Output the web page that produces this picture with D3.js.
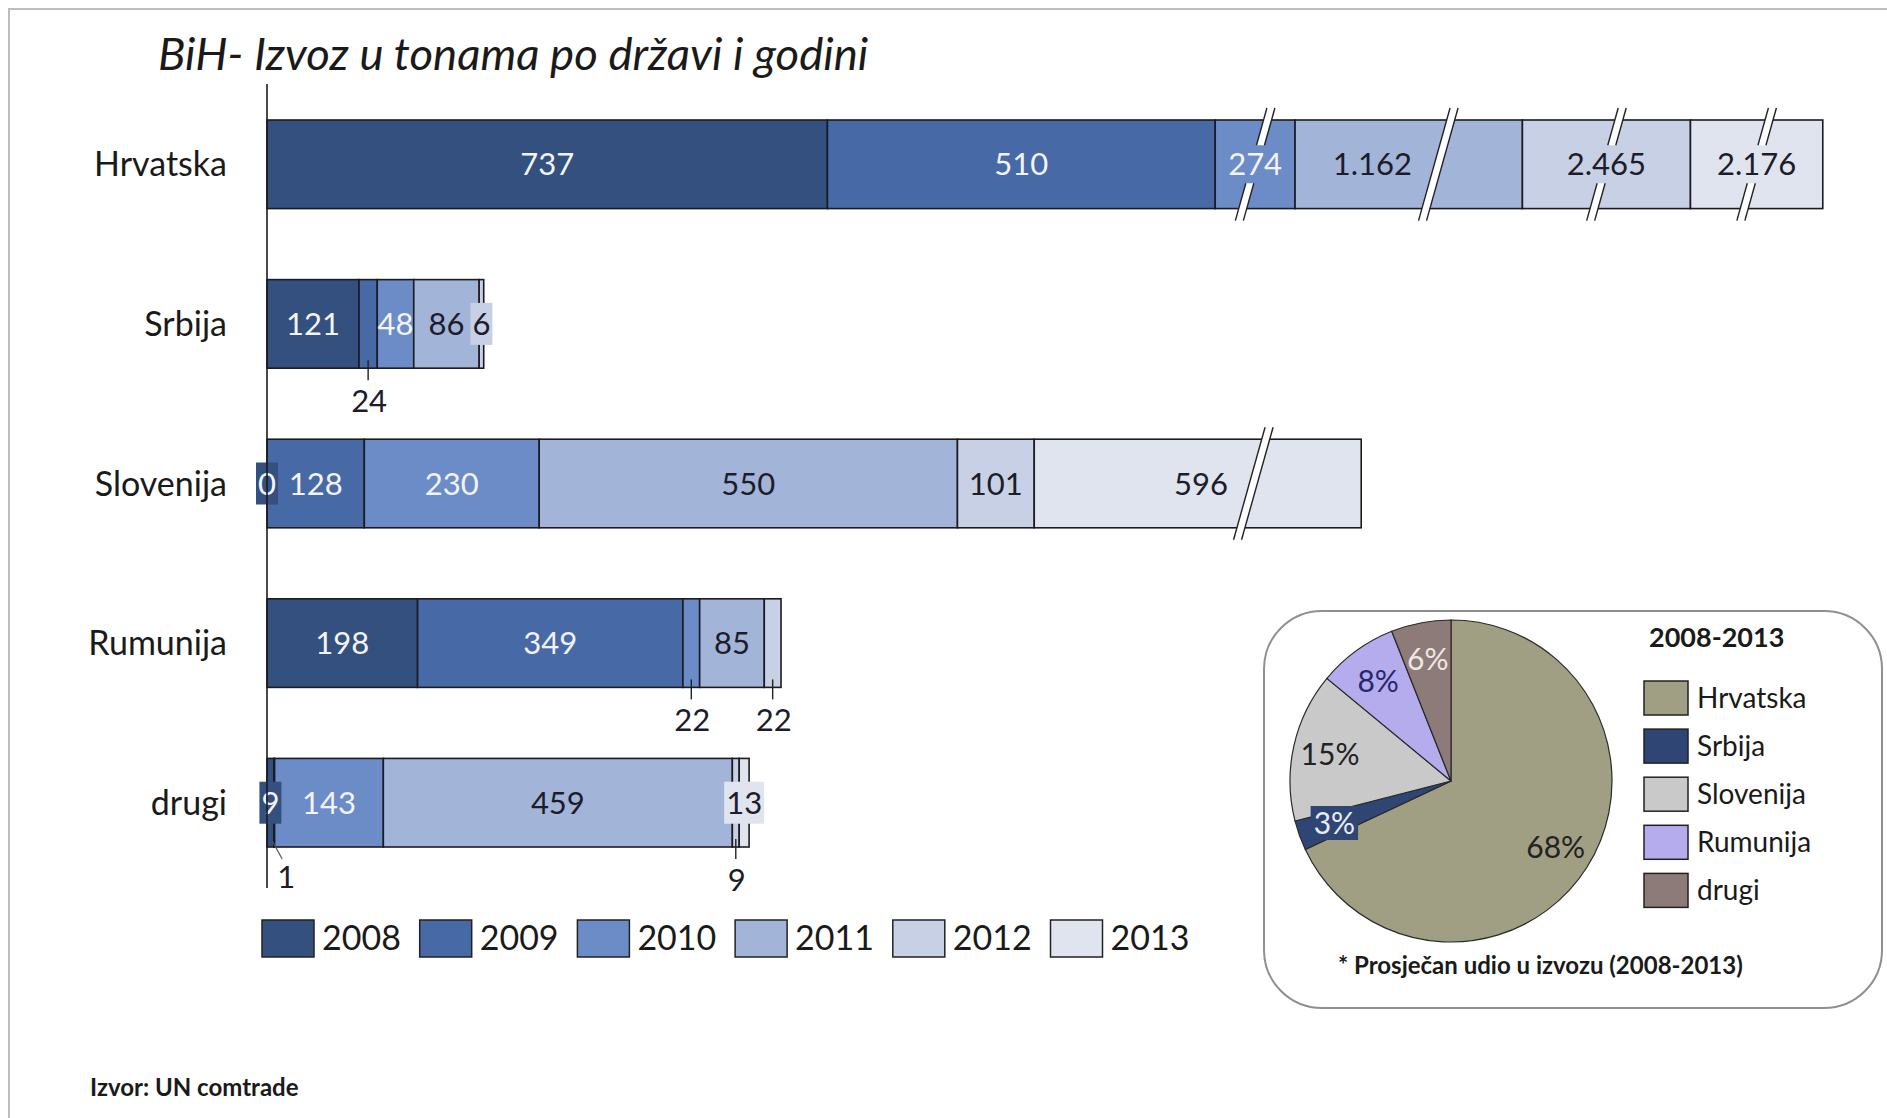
<!DOCTYPE html>
<html><head><meta charset="utf-8">
<script src="https://cdn.jsdelivr.net/npm/d3@7"></script>
<style>
body{margin:0;background:#fff}
svg{display:block}
text{font-family:Lato,"Open Sans",sans-serif}
</style>
</head><body>
<svg id="chart" width="1887" height="1118"></svg>
<script>
// ---------- DATA ----------
const titleText = "BiH- Izvoz u tonama po državi i godini";
const categories = ["Hrvatska", "Srbija", "Slovenija", "Rumunija", "drugi"];
const years = ["2008", "2009", "2010", "2011", "2012", "2013"];
const v2008 = [737, 121, 0, 198, 9];
const v2009 = [510, 24, 128, 349, 1];
const v2010 = [274, 48, 230, 22, 143];
const v2011 = [1162, 86, 550, 85, 459];
const v2012 = [2465, 6, 101, 22, 9];
const v2013 = [2176, null, 596, null, 13];
// length (in tons) to which over-long, broken segments are cut on the chart
const brokenShownAs = {"Hrvatska|2010": 105, "Hrvatska|2011": 299, "Hrvatska|2012": 221, "Hrvatska|2013": 174, "Slovenija|2013": 430};

const pieNames = ["Hrvatska", "Srbija", "Slovenija", "Rumunija", "drugi"];
const pieShares = [68, 3, 15, 8, 6];
const pieTitle = "2008-2013";
const pieNote = "* Prosječan udio u izvozu (2008-2013)";
const sourceText = "Izvor: UN comtrade";

// ---------- STYLE / LAYOUT ----------
const yearColors = ["#34507f", "#4769a6", "#6b8cc7", "#a3b4d9", "#c8d0e6", "#e0e4ee"];
const yearTextColors = ["#f2f4fa", "#f2f4fa", "#f2f4fa", "#1c1c2a", "#1c1c2a", "#1c1c2a"];
const pieColors = ["#a09f83", "#2f4675", "#c9c9c9", "#b4acec", "#8c7b78"];
const pieTextColors = ["#222", "#e8ecf6", "#222", "#27276e", "#f3e4e4"];
const breakStyle = {
  "Hrvatska|2010": {at: 0.5, split: true},
  "Hrvatska|2011": {at: 0.63, label: 0.34},
  "Hrvatska|2012": {at: 0.5, split: true},
  "Hrvatska|2013": {at: 0.5, split: true},
  "Slovenija|2013": {at: 0.67, label: 0.51}
};
const labelMode = {
  "Srbija|2009": "below", "Rumunija|2010": "below", "Rumunija|2012": "below",
  "drugi|2009": "slant", "drugi|2012": "below",
  "Slovenija|2008": "box", "drugi|2008": "box", "Srbija|2012": "box", "drugi|2013": "box"
};

const svg = d3.select("#chart");
const fmt = d3.formatLocale({decimal: ",", thousands: ".", grouping: [3], currency: ["", ""]}).format(",d");

// frame
svg.append("rect").attr("x", 9).attr("y", 9).attr("width", 1900).attr("height", 1200)
  .attr("fill", "none").attr("stroke", "#bdbdbd").attr("stroke-width", 2);

// title
svg.append("text").attr("x", 158).attr("y", 70).attr("font-size", 45.5).attr("font-style", "italic")
  .attr("fill", "#1a1a1a").text(titleText);

// scales
const x = d3.scaleLinear().domain([0, 1000]).range([267, 267 + 760.4]);
const y = d3.scaleBand().domain(categories).range([120, 847]).paddingInner(0.445).paddingOuter(0);
const bw = y.bandwidth();

const seriesVals = [v2008, v2009, v2010, v2011, v2012, v2013];
const rows = categories.map((c, i) => {
  const r = {cat: c};
  years.forEach((yr, j) => {
    const v = seriesVals[j][i];
    const k = c + "|" + yr;
    r[yr] = v == null ? 0 : (brokenShownAs[k] != null ? brokenShownAs[k] : v);
  });
  return r;
});
const stacked = d3.stack().keys(years)(rows);

const gBars = svg.append("g");
const gBreaks = svg.append("g");
const gLabels = svg.append("g");

stacked.forEach((layer, j) => {
  layer.forEach((d, i) => {
    const v = seriesVals[j][i];
    if (v == null) return;
    const cat = categories[i];
    const key = cat + "|" + years[j];
    const x0 = x(d[0]), x1 = x(d[1]);
    const yt = y(cat), yb = yt + bw, yc = yt + bw / 2;
    if (x1 - x0 > 0) {
      gBars.append("rect").attr("x", x0).attr("y", yt).attr("width", x1 - x0).attr("height", bw)
        .attr("fill", yearColors[j]).attr("stroke", "#1b1b22").attr("stroke-width", 1.6);
    }
    // break marks
    const br = breakStyle[key];
    if (br) {
      const cx = x0 + (x1 - x0) * br.at;
      const s = 0.28, w = 8, ext = 12;
      const pieces = br.split ? [[yt - ext, yc - 19], [yc + 19, yb + ext]] : [[yt - ext, yb + ext]];
      pieces.forEach(([ya, yb2]) => {
        const xl = yy => cx + s * (yc - yy) - w / 2;
        const xr = yy => cx + s * (yc - yy) + w / 2;
        gBreaks.append("polygon")
          .attr("points", [[xl(ya), ya], [xr(ya), ya], [xr(yb2), yb2], [xl(yb2), yb2]].map(p => p.join(",")).join(" "))
          .attr("fill", "#ffffff");
        gBreaks.append("line").attr("x1", xl(ya)).attr("y1", ya).attr("x2", xl(yb2)).attr("y2", yb2)
          .attr("stroke", "#222").attr("stroke-width", 1.4);
        gBreaks.append("line").attr("x1", xr(ya)).attr("y1", ya).attr("x2", xr(yb2)).attr("y2", yb2)
          .attr("stroke", "#222").attr("stroke-width", 1.4);
      });
    }
    // labels
    const mode = labelMode[key] || "in";
    const lx = br && br.label != null ? x0 + (x1 - x0) * br.label : (x0 + x1) / 2;
    const txt = fmt(v);
    if (mode === "in") {
      gLabels.append("text").attr("x", lx).attr("y", yc + 11).attr("text-anchor", "middle")
        .attr("font-size", 31).attr("fill", yearTextColors[j]).text(txt);
    } else if (mode === "box") {
      const t = gLabels.append("text").attr("x", lx).attr("y", yc + 11).attr("text-anchor", "middle")
        .attr("font-size", 31).attr("fill", yearTextColors[j]).text(txt);
      const bb = t.node().getBBox();
      gLabels.insert("rect", "text").attr("x", bb.x - 2).attr("y", yc - 21).attr("width", bb.width + 4)
        .attr("height", 42).attr("fill", yearColors[j]);
    } else if (mode === "below") {
      gLabels.append("line").attr("x1", lx).attr("x2", lx).attr("y1", yb - 8).attr("y2", yb + 12)
        .attr("stroke", "#222").attr("stroke-width", 1.4);
      gLabels.append("text").attr("x", lx + 1).attr("y", yb + 44).attr("text-anchor", "middle")
        .attr("font-size", 31).attr("fill", "#1c1c2a").text(txt);
    } else if (mode === "slant") {
      gLabels.append("line").attr("x1", lx - 2).attr("x2", lx + 8).attr("y1", yb - 6).attr("y2", yb + 12)
        .attr("stroke", "#555").attr("stroke-width", 1.2);
      gLabels.append("text").attr("x", lx + 12).attr("y", yb + 41).attr("text-anchor", "middle")
        .attr("font-size", 31).attr("fill", "#1c1c2a").text(txt);
    }
  });
});

// y axis line + category labels
svg.append("line").attr("x1", 267).attr("x2", 267).attr("y1", 84).attr("y2", 888)
  .attr("stroke", "#1b1b22").attr("stroke-width", 1.6);
svg.append("g").selectAll("text").data(categories).join("text")
  .attr("x", 227).attr("y", d => y(d) + bw / 2 + 12).attr("text-anchor", "end")
  .attr("font-size", 34).attr("fill", "#1a1a1a").text(d => d);

// year legend
const lg = svg.append("g").selectAll("g").data(years).join("g")
  .attr("transform", (d, i) => `translate(${262 + i * 157.7},920)`);
lg.append("rect").attr("width", 52).attr("height", 37).attr("fill", (d, i) => yearColors[i])
  .attr("stroke", "#222").attr("stroke-width", 1.5);
lg.append("text").attr("x", 60).attr("y", 30).attr("font-size", 34).attr("fill", "#1a1a1a").text(d => d);

// ---------- PIE PANEL ----------
svg.append("rect").attr("x", 1264).attr("y", 611).attr("width", 618).attr("height", 397)
  .attr("rx", 58).attr("ry", 58).attr("fill", "#fff").attr("stroke", "#8f8f8f").attr("stroke-width", 2);

const pc = [1451, 781], pr = 161;
const pie = d3.pie().sort(null).value(d => d)(pieShares);
const arc = d3.arc().innerRadius(0).outerRadius(pr);
const labelArc = d3.arc().innerRadius(pr * 0.77).outerRadius(pr * 0.77);
const gp = svg.append("g").attr("transform", `translate(${pc[0]},${pc[1]})`);
gp.selectAll("path").data(pie).join("path").attr("d", arc)
  .attr("fill", (d, i) => pieColors[i]).attr("stroke", "#2a2a2a").attr("stroke-width", 1.2);
pie.forEach((d, i) => {
  const c = labelArc.centroid(d);
  const t = gp.append("text").attr("x", c[0]).attr("y", c[1] + 11).attr("text-anchor", "middle")
    .attr("font-size", 30).attr("fill", pieTextColors[i]).text(pieShares[i] + "%");
  if (i === 1) {
    const bb = t.node().getBBox();
    gp.insert("rect", "text").attr("x", bb.x - 3).attr("y", bb.y + 2).attr("width", bb.width + 6)
      .attr("height", bb.height - 2).attr("fill", pieColors[i]);
  }
});

svg.append("text").attr("x", 1649).attr("y", 647).attr("font-size", 27).attr("font-weight", "bold")
  .attr("fill", "#1a1a1a").text(pieTitle);
const pl = svg.append("g").selectAll("g").data(pieNames).join("g")
  .attr("transform", (d, i) => `translate(1644,${681 + i * 48.1})`);
pl.append("rect").attr("width", 44).attr("height", 34).attr("fill", (d, i) => pieColors[i])
  .attr("stroke", "#222").attr("stroke-width", 1.5);
pl.append("text").attr("x", 53).attr("y", 27).attr("font-size", 28).attr("fill", "#1a1a1a").text(d => d);

svg.append("text").attr("x", 1338).attr("y", 974).attr("font-size", 24).attr("font-weight", "bold")
  .attr("fill", "#1a1a1a").text(pieNote);
svg.append("text").attr("x", 90).attr("y", 1096).attr("font-size", 24).attr("font-weight", "bold")
  .attr("fill", "#1a1a1a").text(sourceText);
</script>
</body></html>
